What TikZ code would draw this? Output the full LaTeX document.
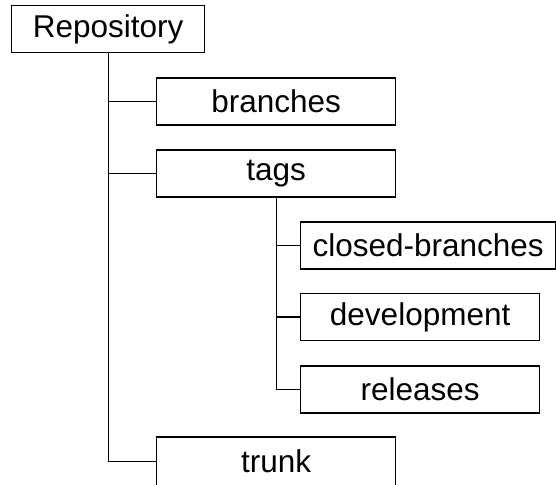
\documentclass[tikz,border=0pt]{standalone}
\usepackage{fontspec}
\setmainfont{Liberation Sans}
\begin{document}
\begin{tikzpicture}[x=1pt,y=-1pt,
  folder/.style={draw=black,line width=1.3pt,fill=white,minimum height=47pt,
    inner sep=0pt,font=\fontsize{31.5}{36}\selectfont,anchor=west},
  link/.style={draw=black,line width=1.3pt}]
\useasboundingbox (0,0) rectangle (556,484);
\clip (0,0) rectangle (556,484);
% folder boxes
\node[folder,minimum width=193pt] (repo) at (11,29) {Repository};
\node[folder,minimum width=239pt] (branches) at (156,101.5) {branches};
\node[folder,minimum width=239pt] (tags) at (156,173.5) {tags};
\node[folder,minimum width=255pt] (closed) at (300,245.5) {closed-branches};
\node[folder,minimum width=239pt] (dev) at (300,317) {development};
\node[folder,minimum width=239pt] (rel) at (300,389.5) {releases};
\node[folder,minimum width=239pt,minimum height=49pt] (trunk) at (156,461.5) {trunk};
% tree connectors
\draw[link] (repo.south) |- (branches.west);
\draw[link] (repo.south) |- (tags.west);
\draw[link] (repo.south) |- (trunk.west);
\draw[link] (tags.south) |- (closed.west);
\draw[link] (tags.south) |- (dev.west);
\draw[link] (tags.south) |- (rel.west);
\end{tikzpicture}
\end{document}
